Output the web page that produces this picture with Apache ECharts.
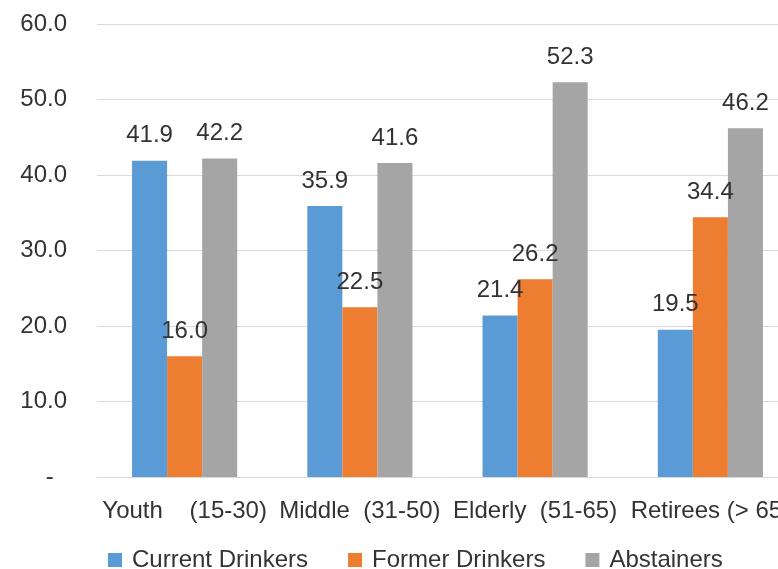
<!DOCTYPE html>
<html>
<head>
<meta charset="utf-8">
<script src="https://cdn.jsdelivr.net/npm/echarts@6/dist/echarts.min.js"></script>
<style>
  html, body { margin: 0; padding: 0; background: #fff; overflow: hidden; }
  /* plot area runs past the right edge of the window, like the cropped original */
  #chart { width: 800px; height: 569px; }
</style>
</head>
<body>
<div id="chart"></div>
<script>
const categories = ['Youth    (15-30)', 'Middle  (31-50)', 'Elderly  (51-65)', 'Retirees (> 65)'];
const currentDrinkers = [41.9, 35.9, 21.4, 19.5];
const formerDrinkers = [16.0, 22.5, 26.2, 34.4];
const abstainers = [42.2, 41.6, 52.3, 46.2];
const seriesNames = ['Current Drinkers', 'Former Drinkers', 'Abstainers'];
const colors = ['#5B9BD5', '#ED7D31', '#A5A5A5'];

const FONT = "'Liberation Sans', Arial, sans-serif";
const textColor = '#333';

const barSeries = (name, data) => ({
  name,
  type: 'bar',
  data,
  barGap: '0%',
  barCategoryGap: '40%',
  label: {
    show: true,
    position: 'top',
    distance: 13,
    fontFamily: FONT,
    fontSize: 24,
    color: textColor,
    formatter: (p) => p.value.toFixed(1),
  },
});

const chart = echarts.init(document.getElementById('chart'));
chart.setOption({
  animation: false,
  color: colors,
  textStyle: { fontFamily: FONT },
  grid: { left: 97, right: 2, top: 24, bottom: 92, containLabel: false },
  legend: {
    data: [
      { name: seriesNames[0] },
      { name: seriesNames[1], textStyle: { padding: [0, 4, 0, 5] } },
      { name: seriesNames[2] },
    ],
    left: 103,
    top: 543,
    icon: 'rect',
    itemWidth: 14,
    itemHeight: 14,
    itemGap: 40,
    textStyle: { fontFamily: FONT, fontSize: 24, color: textColor, padding: [0, 0, 0, 5] },
  },
  xAxis: {
    type: 'category',
    data: categories,
    axisLine: { lineStyle: { color: '#d9d9d9', width: 1 } },
    axisTick: { show: false },
    axisLabel: {
      interval: 0,
      margin: 22,
      fontFamily: FONT,
      fontSize: 24,
      color: textColor,
    },
  },
  yAxis: {
    type: 'value',
    min: 0,
    max: 60,
    interval: 10,
    axisLine: { show: false },
    axisTick: { show: false },
    splitLine: { lineStyle: { color: '#d9d9d9', width: 1 } },
    axisLabel: {
      margin: 30,
      fontFamily: FONT,
      fontSize: 24,
      color: textColor,
      formatter: (v) => (v === 0 ? '-  ' : v.toFixed(1)),
    },
  },
  series: [
    barSeries(seriesNames[0], currentDrinkers),
    barSeries(seriesNames[1], formerDrinkers),
    barSeries(seriesNames[2], abstainers),
  ],
});
</script>
</body>
</html>
